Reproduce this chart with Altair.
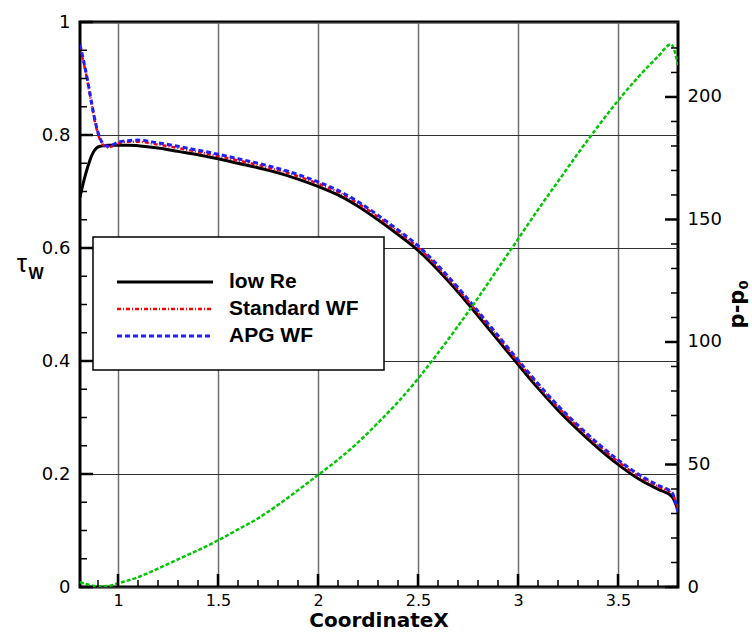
import altair as alt
import pandas as pd

# ---------------- data ----------------
tau_x = [0.81, 0.83, 0.85, 0.87, 0.89, 0.91, 0.93, 0.95, 0.97, 1.0, 1.05, 1.1,
         1.2, 1.3, 1.4, 1.5, 1.6, 1.7, 1.8, 1.9, 2.0, 2.1, 2.2, 2.3, 2.4, 2.5,
         2.6, 2.7, 2.8, 2.9, 3.0, 3.1, 3.2, 3.3, 3.4, 3.5, 3.6, 3.7, 3.77, 3.8]
low_re = [0.69, 0.72, 0.745, 0.765, 0.776, 0.78, 0.781, 0.782, 0.782, 0.782, 0.782, 0.781,
          0.777, 0.771, 0.765, 0.758, 0.750, 0.742, 0.733, 0.722, 0.709, 0.694, 0.674, 0.650,
          0.624, 0.596, 0.561, 0.522, 0.480, 0.437, 0.394, 0.352, 0.313, 0.278, 0.246, 0.217,
          0.192, 0.173, 0.160, 0.136]
std_wf = [0.955, 0.925, 0.89, 0.85, 0.815, 0.792, 0.781, 0.778, 0.780, 0.785, 0.788, 0.788,
          0.783, 0.777, 0.770, 0.763, 0.755, 0.747, 0.738, 0.727, 0.714, 0.699, 0.679, 0.655,
          0.629, 0.601, 0.566, 0.527, 0.485, 0.442, 0.399, 0.357, 0.318, 0.283, 0.251, 0.222,
          0.197, 0.178, 0.165, 0.14]
apg_wf = [0.96, 0.928, 0.893, 0.853, 0.818, 0.794, 0.783, 0.780, 0.782, 0.787, 0.790, 0.791,
          0.786, 0.780, 0.773, 0.766, 0.758, 0.750, 0.741, 0.730, 0.717, 0.702, 0.682, 0.658,
          0.632, 0.604, 0.569, 0.530, 0.488, 0.445, 0.402, 0.360, 0.321, 0.286, 0.254, 0.225,
          0.200, 0.180, 0.167, 0.132]

p_x = [0.81, 0.85, 0.9, 0.95, 1.0, 1.1, 1.2, 1.3, 1.4, 1.5, 1.6, 1.7, 1.8, 1.9, 2.0,
       2.1, 2.2, 2.3, 2.4, 2.5, 2.6, 2.7, 2.8, 2.9, 3.0, 3.1, 3.2, 3.3, 3.4, 3.5, 3.6,
       3.7, 3.765, 3.8]
p_vals = [2, 1, 0.3, 0.4, 1.5, 4, 7.5, 11.3, 15, 19, 23.5, 28, 33.5, 39.5, 45.7,
          52, 59, 67, 75.5, 85, 95.5, 106.5, 118, 130, 142, 154, 165.5, 177, 188, 198.5, 208,
          216.5, 221.5, 213]

x_major = [1, 1.5, 2, 2.5, 3, 3.5]
x_minor = [0.9, 1.1, 1.2, 1.3, 1.4, 1.6, 1.7, 1.8, 1.9, 2.1, 2.2, 2.3, 2.4, 2.6, 2.7,
           2.8, 2.9, 3.1, 3.2, 3.3, 3.4, 3.6, 3.7]
tau_major = [0, 0.2, 0.4, 0.6, 0.8, 1.0]
tau_minor = [0.05, 0.1, 0.15, 0.25, 0.3, 0.35, 0.45, 0.5, 0.55, 0.65, 0.7, 0.75,
             0.85, 0.9, 0.95]
p_major = [0, 50, 100, 150, 200]
p_minor = [10, 20, 30, 40, 60, 70, 80, 90, 110, 120, 130, 140, 160, 170, 180, 190, 210, 220]

series_names = ["low Re", "Standard WF", "APG WF"]

# ---------------- layout ----------------
W, H = 598, 565
FONT = "Liberation Sans"
TFONT = "DejaVu Sans"
xscale = alt.Scale(domain=[0.81, 3.8], nice=False, zero=False)
tscale = alt.Scale(domain=[0, 1], nice=False, zero=False)
pscale = alt.Scale(domain=[0, 230.6], nice=False, zero=False)

xaxis = alt.Axis(values=x_major, format="~g", title=None, ticks=False, domain=False,
                 grid=True, gridColor="#707070", gridWidth=1.5,
                 labelFont=TFONT, labelFontSize=16, labelColor="black",
                 labelPadding=5, labelFlush=False, labelOverlap=False)

tau_df = pd.DataFrame({"x": tau_x, "low": low_re, "std": std_wf, "apg": apg_wf})
p_df = pd.DataFrame({"x": p_x, "p": p_vals})
one = pd.DataFrame({"a": [0]})

X = alt.X("x:Q", scale=xscale, axis=xaxis)

black = alt.Chart(tau_df).mark_line(color="black", strokeWidth=3, clip=True,
                                    interpolate="monotone").encode(
    x=X,
    y=alt.Y("low:Q", scale=tscale,
            axis=alt.Axis(values=tau_major, format="~g", title=None, ticks=False, domain=False,
                          grid=True, gridColor="#303030", gridWidth=1,
                          labelFont=TFONT, labelFontSize=18, labelColor="black",
                          labelPadding=10, labelFlush=False, labelOverlap=False)),
)
red = alt.Chart(tau_df).mark_line(color="#ff0000", strokeWidth=2.5, strokeDash=[4, 2, 1, 2],
                                  clip=True, interpolate="monotone").encode(
    x=X, y=alt.Y("std:Q", scale=tscale, axis=None),
)
blue = alt.Chart(tau_df).mark_line(color="#2020ff", strokeWidth=3, strokeDash=[5, 3],
                                   clip=True, interpolate="monotone").encode(
    x=X, y=alt.Y("apg:Q", scale=tscale, axis=None),
)
green = alt.Chart(p_df).mark_line(color="#00c800", strokeWidth=2.5, strokeDash=[4, 2],
                                  clip=True, interpolate="monotone").encode(
    x=X,
    y=alt.Y("p:Q", scale=pscale,
            axis=alt.Axis(orient="right", values=p_major, format="d", title=None,
                          ticks=False, domain=False, grid=False,
                          labelFont=TFONT, labelFontSize=18, labelColor="black",
                          labelPadding=9, labelFlush=False, labelOverlap=False)),
)

# tick marks (inward)
def xticks(vals, length, width):
    return alt.Chart(pd.DataFrame({"x": vals})).mark_rule(color="black", strokeWidth=width).encode(
        x=X, y=alt.value(H), y2=alt.value(H - length))

def lticks(vals, length, width):
    return alt.Chart(pd.DataFrame({"v": vals})).mark_rule(color="black", strokeWidth=width).encode(
        y=alt.Y("v:Q", scale=tscale, axis=None), x=alt.value(0), x2=alt.value(length))

def rticks(vals, length, width):
    return alt.Chart(pd.DataFrame({"v": vals})).mark_rule(color="black", strokeWidth=width).encode(
        y=alt.Y("v:Q", scale=pscale, axis=None), x=alt.value(W), x2=alt.value(W - length))

ticks = [xticks(x_major, 13, 2.5), xticks(x_minor, 7, 1.5),
         lticks(tau_major, 13, 2.5), lticks(tau_minor, 7, 1.5),
         rticks(p_major, 13, 2.5), rticks(p_minor, 7, 1.5)]

# legend
box = alt.Chart(one).mark_rect(fill="white", stroke="black", strokeWidth=1.5).encode(
    x=alt.value(13), x2=alt.value(304), y=alt.value(215), y2=alt.value(348))
leg_black = alt.Chart(one).mark_rule(color="black", strokeWidth=3).encode(
    x=alt.value(37), x2=alt.value(133), y=alt.value(260))
leg_red = alt.Chart(one).mark_rule(color="#ff0000", strokeWidth=2.5, strokeDash=[4, 2, 1, 2]).encode(
    x=alt.value(37), x2=alt.value(133), y=alt.value(287))
leg_blue = alt.Chart(one).mark_rule(color="#2020ff", strokeWidth=3, strokeDash=[5, 3]).encode(
    x=alt.value(37), x2=alt.value(133), y=alt.value(314))
leg_text = [
    alt.Chart(one).mark_text(align="left", baseline="middle", font=FONT, fontSize=21,
                             fontWeight="bold", color="black").encode(
        x=alt.value(149), y=alt.value(yy), text=alt.value(name))
    for name, yy in zip(series_names, [260, 287, 314])
]

# axis titles
def txt(s, x, y, size, bold=True, angle=0, align="center", baseline="alphabetic", font=TFONT):
    kw = dict(align=align, baseline=baseline, font=font, fontSize=size,
              fontWeight="bold" if bold else "normal", color="black")
    if angle:
        kw["angle"] = angle
    return alt.Chart(one).mark_text(**kw).encode(x=alt.value(x), y=alt.value(y), text=alt.value(s))

titles = [
    txt("CoordinateX", W / 2, 605, 20),
    txt("τ", -58, 250, 26, bold=False, font=FONT),
    txt("W", -44, 257, 16, font=FONT),
    txt("p-p", 664, 287, 21, angle=270),
    txt("0", 668, 263, 13, angle=270),
]

chart = alt.layer(
    black, red, blue, green, *ticks, box, leg_black, leg_red, leg_blue, *leg_text, *titles
).resolve_scale(y="independent").properties(
    width=W, height=H,
    padding={"left": 80, "top": 22, "right": 74, "bottom": 48},
    autosize=alt.AutoSizeParams(type="none"),
    background="white",
).configure_view(stroke="black", strokeWidth=3)

chart.save("out.html", embed_options={"renderer": "svg", "actions": False})
